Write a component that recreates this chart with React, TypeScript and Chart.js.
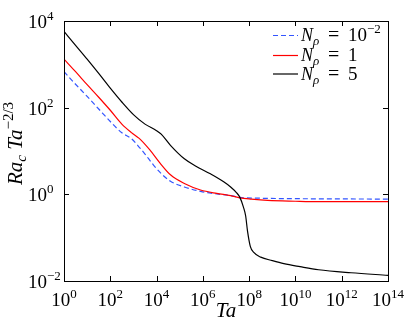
import { useEffect, useRef } from "react";
import { Chart, registerables } from "chart.js";

Chart.register(...registerables);

// ---- data (log-log) ----
const taBlue = [1, 3.16, 10, 31.6, 100, 316, 794, 1585, 3162, 7244, 1.585e4, 3.98e4, 1.585e5, 7.94e5, 3.98e6, 1.585e7, 3.98e7, 3.16e8, 1e10, 1e14];
const raBlue = [676, 347, 182, 93.3, 47.9, 26.3, 19.5, 13.2, 8.51, 4.79, 3.02, 2.0, 1.48, 1.17, 1.02, 0.933, 0.851, 0.813, 0.794, 0.776];

const taRed = [1, 3.16, 10, 31.6, 100, 316, 794, 1778, 5012, 1.413e4, 3.98e4, 1.585e5, 7.94e5, 3.98e6, 1.585e7, 3.98e7, 1.259e8, 6.31e8, 1e10, 1e11, 1e14];
const raRed = [1320, 676, 339, 174, 87.1, 41.7, 26.9, 19.5, 10.7, 5.25, 2.82, 1.78, 1.26, 1.05, 0.933, 0.832, 0.776, 0.724, 0.692, 0.676, 0.676];

const taBlack = [1, 3.16, 10, 31.6, 100, 316, 1000, 3162, 1e4, 1.585e4, 3.98e4, 1.585e5, 5.01e5, 2.0e6, 7.94e6, 1.585e7, 2.82e7, 3.98e7, 5.62e7, 7.08e7, 8.51e7, 1.122e8, 1.585e8, 3.16e8, 1e9, 3.16e9, 1.585e10, 1e11, 2.51e12, 1e14];
const raBlack = [5750, 2750, 1320, 617, 282, 135, 69.2, 41.7, 29.5, 24.5, 13.5, 6.61, 4.47, 3.02, 1.95, 1.48, 1.10, 0.851, 0.513, 0.316, 0.141, 0.0631, 0.0457, 0.0355, 0.0295, 0.0251, 0.0214, 0.0182, 0.0155, 0.0135];

const xTickExps = ["0", "2", "4", "6", "8", "10", "12", "14"];
const yTickExps = ["−2", "0", "2", "4"];
const legendValues = [
  { base: "10", sup: "−2" },
  { base: "1", sup: "" },
  { base: "5", sup: "" },
];

const SERIF = '"Liberation Serif", "DejaVu Serif", serif';
const BLUE = "#3355ff";
const RED = "#ff0000";
const BLACK = "#000000";

type Run = { t: string; font: string; dy: number; x?: number };

function runsWidth(ctx: CanvasRenderingContext2D, runs: Run[]) {
  let w = 0;
  for (const r of runs) {
    ctx.font = r.font;
    w += ctx.measureText(r.t).width;
  }
  return w;
}

function drawRuns(ctx: CanvasRenderingContext2D, runs: Run[], x: number, y: number) {
  let cx = x;
  for (const r of runs) {
    ctx.font = r.font;
    if (r.x !== undefined) cx = r.x;
    ctx.fillText(r.t, cx, y + r.dy);
    cx += ctx.measureText(r.t).width;
  }
}

function powRuns(exp: string, size = 19): Run[] {
  return [
    { t: "10", font: `${size}px ${SERIF}`, dy: 0 },
    { t: exp, font: `${Math.round(size * 0.7)}px ${SERIF}`, dy: -8 },
  ];
}

const decorPlugin = {
  id: "decor",
  afterDraw(chart: any) {
    const ctx: CanvasRenderingContext2D = chart.ctx;
    const { left, right, top, bottom } = chart.chartArea;
    const xs = chart.scales.x;
    const ys = chart.scales.y;
    ctx.save();
    ctx.fillStyle = "#000";
    ctx.strokeStyle = "#000";
    ctx.lineWidth = 1;
    ctx.setLineDash([]);
    // box
    ctx.strokeRect(Math.round(left) + 0.5, Math.round(top) + 0.5, Math.round(right - left), Math.round(bottom - top));
    // ticks
    const tl = 5;
    ctx.beginPath();
    for (const e of xTickExps) {
      const px = Math.round(xs.getPixelForValue(Math.pow(10, Number(e)))) + 0.5;
      ctx.moveTo(px, bottom);
      ctx.lineTo(px, bottom - tl);
      ctx.moveTo(px, top);
      ctx.lineTo(px, top + tl);
    }
    for (const e of yTickExps) {
      const py = Math.round(ys.getPixelForValue(Math.pow(10, Number(e.replace("−", "-"))))) + 0.5;
      ctx.moveTo(left, py);
      ctx.lineTo(left + tl, py);
      ctx.moveTo(right, py);
      ctx.lineTo(right - tl, py);
    }
    ctx.stroke();
    // tick labels
    ctx.textBaseline = "alphabetic";
    ctx.textAlign = "left";
    for (const e of xTickExps) {
      const px = xs.getPixelForValue(Math.pow(10, Number(e)));
      const runs = powRuns(e);
      const w = runsWidth(ctx, runs);
      drawRuns(ctx, runs, px - w / 2, 306);
    }
    for (const e of yTickExps) {
      const py = ys.getPixelForValue(Math.pow(10, Number(e.replace("−", "-"))));
      drawRuns(ctx, powRuns(e), 28, py + 7);
    }
    // x title
    {
      const runs: Run[] = [{ t: "Ta", font: `italic 21px ${SERIF}`, dy: 0 }];
      const w = runsWidth(ctx, runs);
      drawRuns(ctx, runs, (left + right) / 2 - w / 2, 317);
    }
    // y title (rotated)
    {
      const runs: Run[] = [
        { t: "Ra", font: `italic 21px ${SERIF}`, dy: 0 },
        { t: "c", font: `italic 15px ${SERIF}`, dy: 4 },
        { t: " Ta", font: `italic 21px ${SERIF}`, dy: 0 },
        { t: "−2/3", font: `15px ${SERIF}`, dy: -9 },
      ];
      const w = runsWidth(ctx, runs);
      ctx.save();
      ctx.translate(22, 143.5);
      ctx.rotate(-Math.PI / 2);
      drawRuns(ctx, runs, -w / 2, 0);
      ctx.restore();
    }
    // legend
    const rowsY = [35, 55, 73.5];
    const colors = [BLUE, RED, BLACK];
    for (let i = 0; i < 3; i++) {
      const y = rowsY[i] + 0.5;
      ctx.strokeStyle = colors[i];
      ctx.lineWidth = 1.2;
      ctx.setLineDash(i === 0 ? [5, 3] : []);
      ctx.beginPath();
      ctx.moveTo(273, y);
      ctx.lineTo(298, y);
      ctx.stroke();
      ctx.setLineDash([]);
      const lv = legendValues[i];
      const runs: Run[] = [
        { t: "N", font: `italic 18px ${SERIF}`, dy: 0, x: 301 },
        { t: "ρ", font: `italic 13px ${SERIF}`, dy: 4 },
        { t: "=", font: `20px ${SERIF}`, dy: 0, x: 328 },
        { t: lv.base, font: `19px ${SERIF}`, dy: 0, x: 348 },
      ];
      if (lv.sup) runs.push({ t: lv.sup, font: `13px ${SERIF}`, dy: -8 });
      ctx.fillStyle = "#000";
      drawRuns(ctx, runs, 301, rowsY[i] + 6);
    }
    ctx.restore();
  },
};

function toPoints(xs: number[], ys: number[]) {
  return xs.map((x, i) => ({ x, y: ys[i] }));
}

export default function App() {
  const ref = useRef<HTMLCanvasElement | null>(null);
  useEffect(() => {
    document.body.style.margin = "0";
    const canvas = ref.current!;
    const chart = new Chart(canvas, {
      type: "scatter",
      data: {
        datasets: [
          {
            label: "N=1e-2",
            data: toPoints(taBlue, raBlue),
            showLine: true,
            borderColor: BLUE,
            borderWidth: 1.2,
            borderDash: [5, 3],
            pointRadius: 0,
            cubicInterpolationMode: "monotone",
            order: 3,
          },
          {
            label: "N=1",
            data: toPoints(taRed, raRed),
            showLine: true,
            borderColor: RED,
            borderWidth: 1.2,
            pointRadius: 0,
            cubicInterpolationMode: "monotone",
            order: 2,
          },
          {
            label: "N=5",
            data: toPoints(taBlack, raBlack),
            showLine: true,
            borderColor: BLACK,
            borderWidth: 1.2,
            pointRadius: 0,
            cubicInterpolationMode: "monotone",
            order: 1,
          },
        ],
      },
      options: {
        animation: false,
        responsive: false,
        devicePixelRatio: 1,
        layout: { padding: { left: 64, right: 21, top: 21, bottom: 47 } },
        plugins: { legend: { display: false }, tooltip: { enabled: false } },
        scales: {
          x: { type: "logarithmic", min: 1, max: 1e14, display: false },
          y: { type: "logarithmic", min: 1e-2, max: 1e4, display: false },
        },
      } as any,
      plugins: [decorPlugin],
    });
    return () => chart.destroy();
  }, []);
  return (
    <div style={{ width: 409, height: 328, background: "#fff" }}>
      <canvas ref={ref} width={409} height={328} style={{ display: "block" }} />
    </div>
  );
}
